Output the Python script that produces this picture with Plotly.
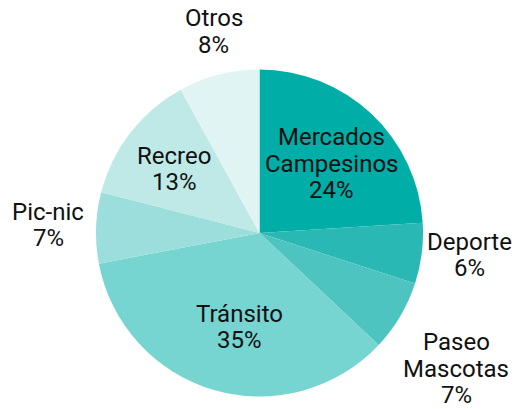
import math
import plotly.graph_objects as go

# Share of street use by activity, in percent
categories = ["Mercados Campesinos", "Deporte", "Paseo Mascotas", "Tránsito",
              "Pic-nic", "Recreo", "Otros"]
shares = [24, 6, 7, 35, 7, 13, 8]
slice_colors = ["#00ADA7", "#29B8B3", "#4DC4C0", "#76D4D1", "#9BDEDC", "#BEE9E7", "#E0F4F3"]

# Label layout: text lines, distance from centre (in radii), angular nudge (degrees)
label_style = {
    "Mercados Campesinos": (["Mercados", "Campesinos"], 0.614, 3.0),
    "Deporte": (["Deporte"], 1.29, -1.2),
    "Paseo Mascotas": (["Paseo", "Mascotas"], 1.463, 4.0),
    "Tránsito": (["Tránsito"], 0.587, -4.2),
    "Pic-nic": (["Pic-nic"], 1.293, 0.4),
    "Recreo": (["Recreo"], 0.652, -1.0),
    "Otros": (["Otros"], 1.265, 1.6),
}

W, H = 520, 409
CX, CY, R = 259.5, 233.0, 163.5  # pie centre and radius in pixels
LINE_PITCH = 26.5
FONT = dict(family="Roboto", size=24, color="#111111")

fig = go.Figure(go.Pie(
    labels=categories,
    values=shares,
    sort=False,
    direction="clockwise",
    rotation=0,
    marker=dict(colors=slice_colors, line=dict(width=0)),
    textinfo="none",
    domain=dict(x=[(CX - R) / W, (CX + R) / W], y=[1 - (CY + R) / H, 1 - (CY - R) / H]),
    showlegend=False,
    hoverinfo="label+percent",
))

# Place each label along its slice's mid-angle, one annotation per text line
total = sum(shares)
cumulative = 0
annotations = []
for name, value in zip(categories, shares):
    mid = (cumulative + value / 2) / total * 360
    cumulative += value
    lines, dist, nudge = label_style[name]
    ang = math.radians(mid + nudge)
    bx = dist * R * math.sin(ang)
    by = -dist * R * math.cos(ang)
    all_lines = lines + [f"{value}%"]
    n = len(all_lines)
    for i, txt in enumerate(all_lines):
        ly = by + (i - (n - 1) / 2) * LINE_PITCH
        annotations.append(dict(
            text=txt, showarrow=False, font=FONT,
            xref="paper", yref="paper", x=CX / W, y=1 - CY / H,
            xanchor="center", yanchor="middle",
            xshift=bx, yshift=-ly,
        ))

fig.update_layout(
    width=W, height=H,
    margin=dict(l=0, r=0, t=0, b=0),
    paper_bgcolor="white",
    annotations=annotations,
)

fig.write_html("out.html")
